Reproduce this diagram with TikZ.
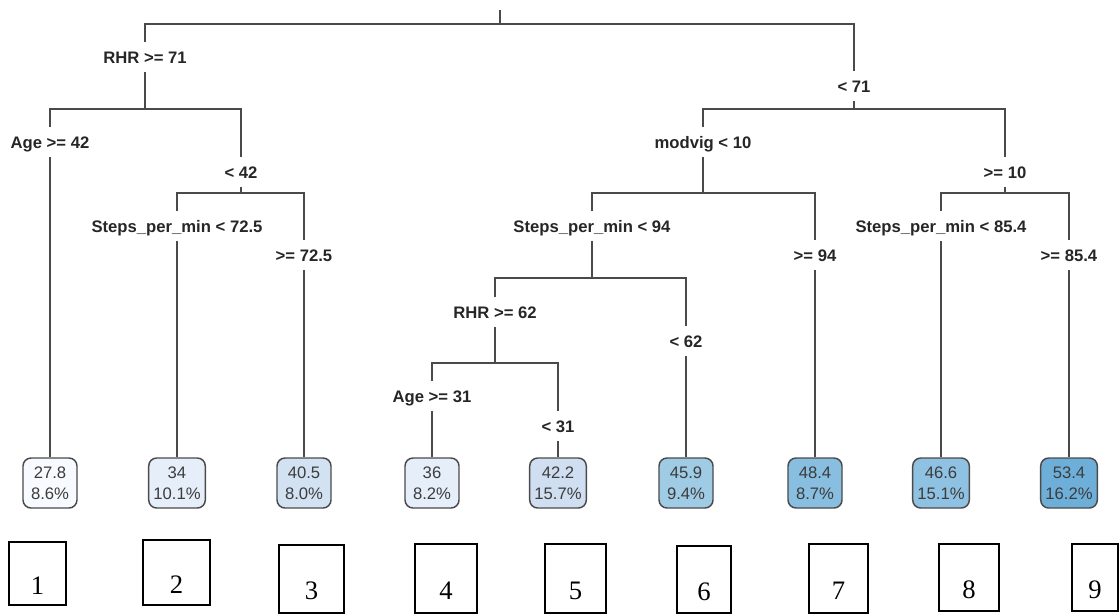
\documentclass[tikz,border=0pt]{standalone}
\usepackage{fontspec}
\setmainfont{Liberation Serif}
\newfontfamily\arialf{Liberation Sans}
\definecolor{linec}{HTML}{4A4A4A}
\definecolor{leaftext}{HTML}{3C3C3C}
\definecolor{c1}{HTML}{F7FBFF}
\definecolor{c2}{HTML}{E6EFF9}
\definecolor{c3}{HTML}{D2E2F3}
\definecolor{c4}{HTML}{E6EFF9}
\definecolor{c5}{HTML}{CFDFF1}
\definecolor{c6}{HTML}{9FCBE5}
\definecolor{c7}{HTML}{88BEE0}
\definecolor{c8}{HTML}{8FC2E2}
\definecolor{c9}{HTML}{6EAFD9}
\begin{document}
\begin{tikzpicture}[x=0.75pt,y=-0.75pt,
  tline/.style={draw=linec, line width=1.1pt},
  split/.style={font=\arialf\bfseries\fontsize{12.5}{14}\selectfont, text=black!85, text height=9pt, text depth=0pt, inner xsep=1pt, inner ysep=6.5pt},
  leaf/.style={draw=linec, line width=1.1pt, rounded corners=6pt, minimum width=40.5pt, minimum height=37.5pt, inner xsep=3.5pt, inner ysep=2pt, align=center, font=\arialf\fontsize{12.5}{15.5}\selectfont, text=leaftext},
  numbox/.style={draw=black, line width=0.8pt, text height=31pt, text depth=0pt, inner sep=0pt, font=\fontsize{20}{20}\selectfont}]
\useasboundingbox (0,0) rectangle (1120,614);

% root
\coordinate (top) at (500,10);
\coordinate (h0) at (500,24);
\node[split] (n1) at (145,57) {RHR >= 71};
\node[split] (n2) at (854,86) {< 71};
\draw[tline] (top) -- (h0);
\draw[tline] (n1.north) |- (h0) -| (n2.north);

% left subtree
\coordinate (h1) at (145,109);
\draw[tline] (n1.south) -- (h1);
\node[split] (n3) at (50,142) {Age >= 42};
\node[split] (n4) at (241,172) {< 42};
\draw[tline] (n3.north) |- (h1) -| (n4.north);
\coordinate (h2) at (241,193);
\draw[tline] (n4.south) -- (h2);
\node[split] (n5) at (177,226) {Steps\_per\_min < 72.5};
\node[split] (n6) at (304,255) {>= 72.5};
\draw[tline] (n5.north) |- (h2) -| (n6.north);

% right subtree
\coordinate (h3) at (854,109);
\draw[tline] (n2.south) -- (h3);
\node[split] (n7) at (703,142) {modvig < 10};
\node[split] (n8) at (1005,172) {>= 10};
\draw[tline] (n7.north) |- (h3) -| (n8.north);
\coordinate (h4) at (703,193);
\draw[tline] (n7.south) -- (h4);
\node[split] (n9) at (592,226) {Steps\_per\_min < 94};
\node[split] (n10) at (815,255) {>= 94};
\draw[tline] (n9.north) |- (h4) -| (n10.north);
\coordinate (h5) at (1005,193);
\draw[tline] (n8.south) -- (h5);
\node[split] (n11) at (941,226) {Steps\_per\_min < 85.4};
\node[split] (n12) at (1069,255) {>= 85.4};
\draw[tline] (n11.north) |- (h5) -| (n12.north);
\coordinate (h6) at (592,278);
\draw[tline] (n9.south) -- (h6);
\node[split] (n13) at (495,312) {RHR >= 62};
\node[split] (n14) at (686,341) {< 62};
\draw[tline] (n13.north) |- (h6) -| (n14.north);
\coordinate (h7) at (495,363);
\draw[tline] (n13.south) -- (h7);
\node[split] (n15) at (432,396) {Age >= 31};
\node[split] (n16) at (558,426) {< 31};
\draw[tline] (n15.north) |- (h7) -| (n16.north);

% leaves
\node[leaf, fill=c1] (leaf1) at (50,483) {27.8\\8.6\%};
\node[leaf, fill=c2] (leaf2) at (177,483) {34\\10.1\%};
\node[leaf, fill=c3] (leaf3) at (304,483) {40.5\\8.0\%};
\node[leaf, fill=c4] (leaf4) at (432,483) {36\\8.2\%};
\node[leaf, fill=c5] (leaf5) at (558,483) {42.2\\15.7\%};
\node[leaf, fill=c6] (leaf6) at (686,483) {45.9\\9.4\%};
\node[leaf, fill=c7] (leaf7) at (815,483) {48.4\\8.7\%};
\node[leaf, fill=c8] (leaf8) at (941,483) {46.6\\15.1\%};
\node[leaf, fill=c9] (leaf9) at (1069,483) {53.4\\16.2\%};
\draw[tline] (n3.south) -- (leaf1.north);
\draw[tline] (n5.south) -- (leaf2.north);
\draw[tline] (n6.south) -- (leaf3.north);
\draw[tline] (n15.south) -- (leaf4.north);
\draw[tline] (n16.south) -- (leaf5.north);
\draw[tline] (n14.south) -- (leaf6.north);
\draw[tline] (n10.south) -- (leaf7.north);
\draw[tline] (n11.south) -- (leaf8.north);
\draw[tline] (n12.south) -- (leaf9.north);

% numbered boxes
\node[numbox, minimum width=42.75pt, minimum height=47.25pt] (b1) at (37.5,573.5) {1};
\node[numbox, minimum width=50.25pt, minimum height=48.75pt] (b2) at (176.5,572.5) {2};
\node[numbox, minimum width=48.75pt, minimum height=51pt] (b3) at (311.5,579) {3};
\node[numbox, minimum width=46.5pt, minimum height=51.75pt] (b4) at (446,578.5) {4};
\node[numbox, minimum width=45.75pt, minimum height=51.75pt] (b5) at (575.5,578.5) {5};
\node[numbox, minimum width=40.5pt, minimum height=50.25pt] (b6) at (704,579.5) {6};
\node[numbox, minimum width=44.25pt, minimum height=51.75pt] (b7) at (838.5,578.5) {7};
\node[numbox, minimum width=45pt, minimum height=50.25pt] (b8) at (969,577.5) {8};
\node[numbox, minimum width=34.5pt, minimum height=50.25pt] (b9) at (1095,577.5) {9};
\end{tikzpicture}
\end{document}
